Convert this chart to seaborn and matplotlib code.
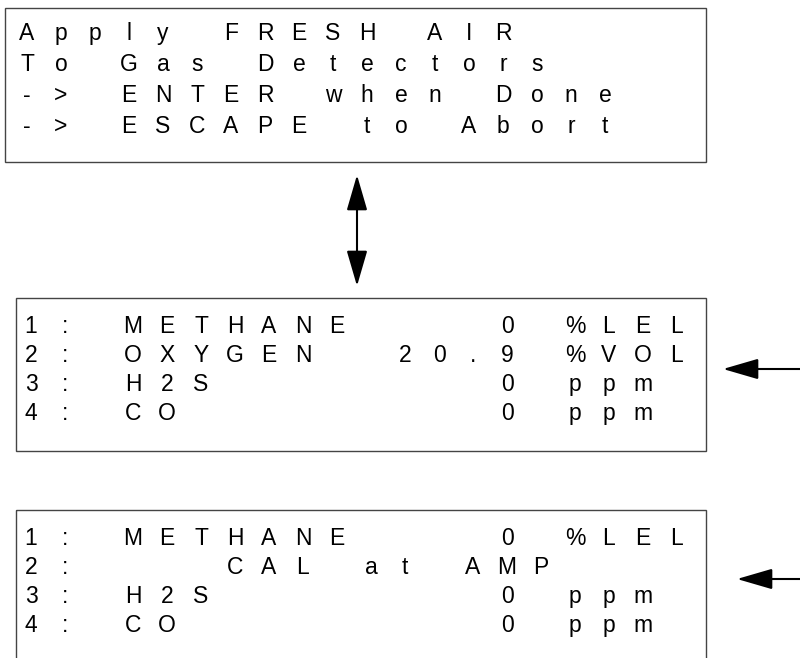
import numpy as np
import seaborn as sns
import matplotlib.pyplot as plt
from matplotlib.patches import Rectangle

# 20 column LCD screens
prompt_lines = ["Apply FRESH AIR", "To Gas Detectors",
                "-> ENTER when Done", "-> ESCAPE to Abort"]
gas_ids = ["1", "2", "3", "4"]
gas_names = ["METHANE", "OXYGEN", "H2S", "CO"]
gas_values = ["0", "20.9", "0", "0"]
gas_units = ["%LEL", "%VOL", "ppm", "ppm"]
cal_row = 1
cal_text = "   CAL at AMP"

sns.set_theme(style="white")
plt.rcParams['font.family'] = ['Liberation Sans', 'DejaVu Sans']

fig = plt.figure(figsize=(8, 6.58), dpi=100)
ax = fig.add_axes([0, 0, 1, 1])
ax.set_xlim(0, 800)
ax.set_ylim(658, 0)
ax.set_axis_off()

PITCH = 34.0


def lcd_line(x0, y, s):
    # each character centred in its own cell
    for i, c in enumerate(s):
        if c != ' ':
            ax.text(x0 + i * PITCH, y, c, fontsize=16.5, ha='center',
                    va='baseline', color='black')


def box(x0, y0, x1, y1):
    ax.add_patch(Rectangle((x0, y0), x1 - x0, y1 - y0, fill=False,
                           edgecolor='#444444', lw=1.0))


def arrow(tip, tail, style='-|>'):
    ax.annotate("", xy=tip, xytext=tail,
                arrowprops=dict(arrowstyle=style + ",head_length=1.1,head_width=0.32",
                                mutation_scale=20, lw=1.5, color='black',
                                shrinkA=0, shrinkB=0))


# top prompt screen
box(5, 8, 706, 162)
for i, line in enumerate(prompt_lines):
    lcd_line(27, 40 + i * 31, line)

arrow((357, 175), (357, 286), '<|-|>')


def gas_screen(top, bottom, calib=False):
    box(16, top, 706, bottom)
    for i in range(len(gas_ids)):
        if calib and i == cal_row:
            row = gas_ids[i] + ": " + cal_text
        else:
            row = f"{gas_ids[i]}: {gas_names[i]:<7}{gas_values[i]:>5} {gas_units[i]}"
        lcd_line(31, top + 35 + i * 29, row)


gas_screen(298, 451)
arrow((723, 369), (800, 369))

gas_screen(510, 700, calib=True)
arrow((737, 579), (800, 579))

fig.savefig("out.png", dpi=100)
